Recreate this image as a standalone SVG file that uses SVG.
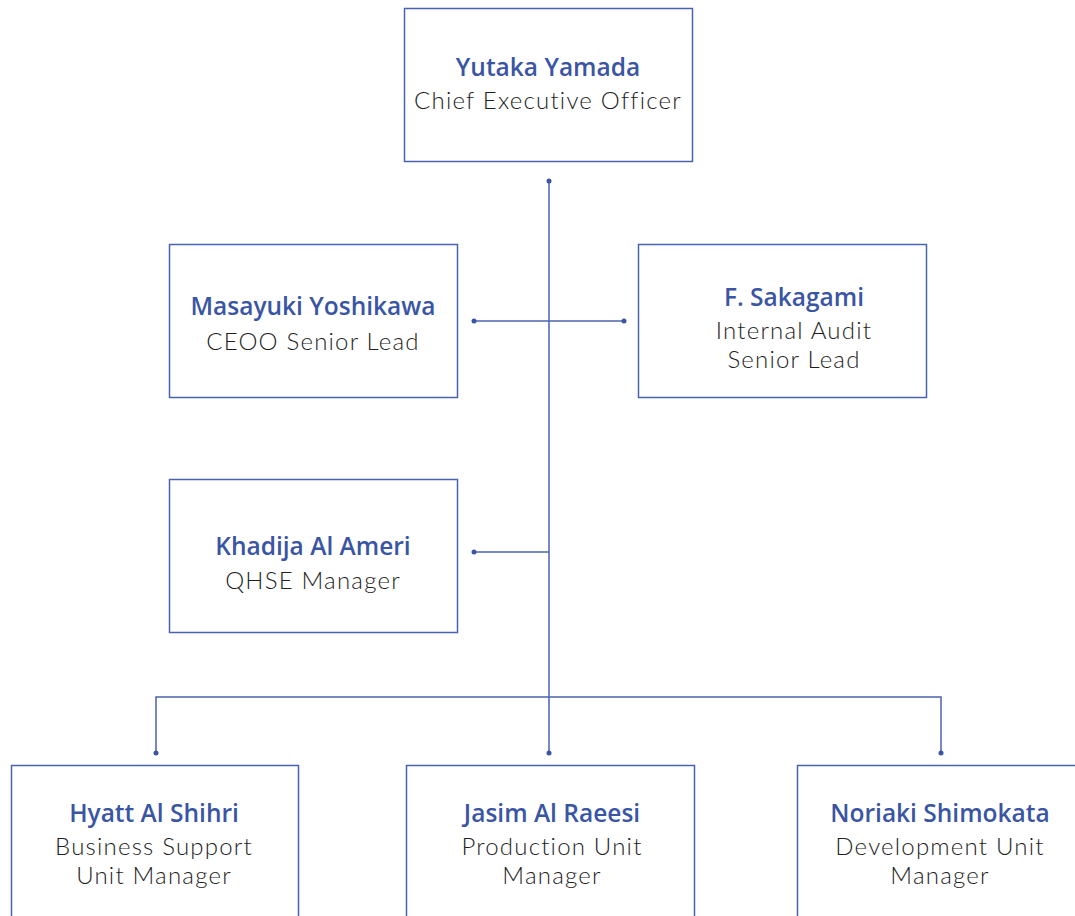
<svg xmlns="http://www.w3.org/2000/svg" width="1075" height="916" viewBox="0 0 1075 916">
<style>
.box{fill:#fff;stroke:#4a63b0;stroke-width:1.5}
.name{font-family:"Open Sans","Noto Sans",sans-serif;font-weight:600;font-size:24.5px;fill:#3a55a4;text-anchor:middle}
.role{font-family:Lato,"Open Sans",sans-serif;font-weight:300;font-size:24px;letter-spacing:1.2px;fill:#1e1e1e;text-anchor:middle}
.ln{fill:none;stroke:#4a63b0;stroke-width:1.5}
.dot{fill:#3a55a4}
</style>
<rect width="1075" height="916" fill="#fff"/>
<g id="connectors">
<path class="ln" d="M549 181V753"/>
<path class="ln" d="M474 321H624"/>
<path class="ln" d="M474 552H549"/>
<path class="ln" d="M156 753V697H941V753"/>
<circle class="dot" cx="549" cy="181" r="2.5"/>
<circle class="dot" cx="474" cy="321" r="2.5"/>
<circle class="dot" cx="624" cy="321" r="2.5"/>
<circle class="dot" cx="474" cy="552" r="2.5"/>
<circle class="dot" cx="156" cy="753" r="2.5"/>
<circle class="dot" cx="549" cy="753" r="2.5"/>
<circle class="dot" cx="941" cy="753" r="2.5"/>
</g>
<g id="ceo">
<rect class="box" x="404.5" y="8.5" width="288" height="153"/>
<text class="name" x="548" y="76">Yutaka Yamada</text>
<text class="role" x="548" y="109">Chief Executive Officer</text>
</g>
<g id="yoshikawa">
<rect class="box" x="169.5" y="244.5" width="288" height="153"/>
<text class="name" x="313" y="315">Masayuki Yoshikawa</text>
<text class="role" x="313" y="350">CEOO Senior Lead</text>
</g>
<g id="sakagami">
<rect class="box" x="638.5" y="244.5" width="288" height="153"/>
<text class="name" x="794" y="306">F. Sakagami</text>
<text class="role" x="794" y="339">Internal Audit</text>
<text class="role" x="794" y="368">Senior Lead</text>
</g>
<g id="alameri">
<rect class="box" x="169.5" y="479.5" width="288" height="153"/>
<text class="name" x="313" y="555">Khadija Al Ameri</text>
<text class="role" x="313" y="589">QHSE Manager</text>
</g>
<g id="alshihri">
<rect class="box" x="11.5" y="765.5" width="287" height="170"/>
<text class="name" x="154" y="822">Hyatt Al Shihri</text>
<text class="role" x="154" y="855">Business Support</text>
<text class="role" x="154" y="884">Unit Manager</text>
</g>
<g id="alraeesi">
<rect class="box" x="406.5" y="765.5" width="288" height="170"/>
<text class="name" x="552" y="822">Jasim Al Raeesi</text>
<text class="role" x="552" y="855">Production Unit</text>
<text class="role" x="552" y="884">Manager</text>
</g>
<g id="shimokata">
<rect class="box" x="797.5" y="765.5" width="300" height="170"/>
<text class="name" x="940" y="822">Noriaki Shimokata</text>
<text class="role" x="940" y="855">Development Unit</text>
<text class="role" x="940" y="884">Manager</text>
</g>
</svg>
